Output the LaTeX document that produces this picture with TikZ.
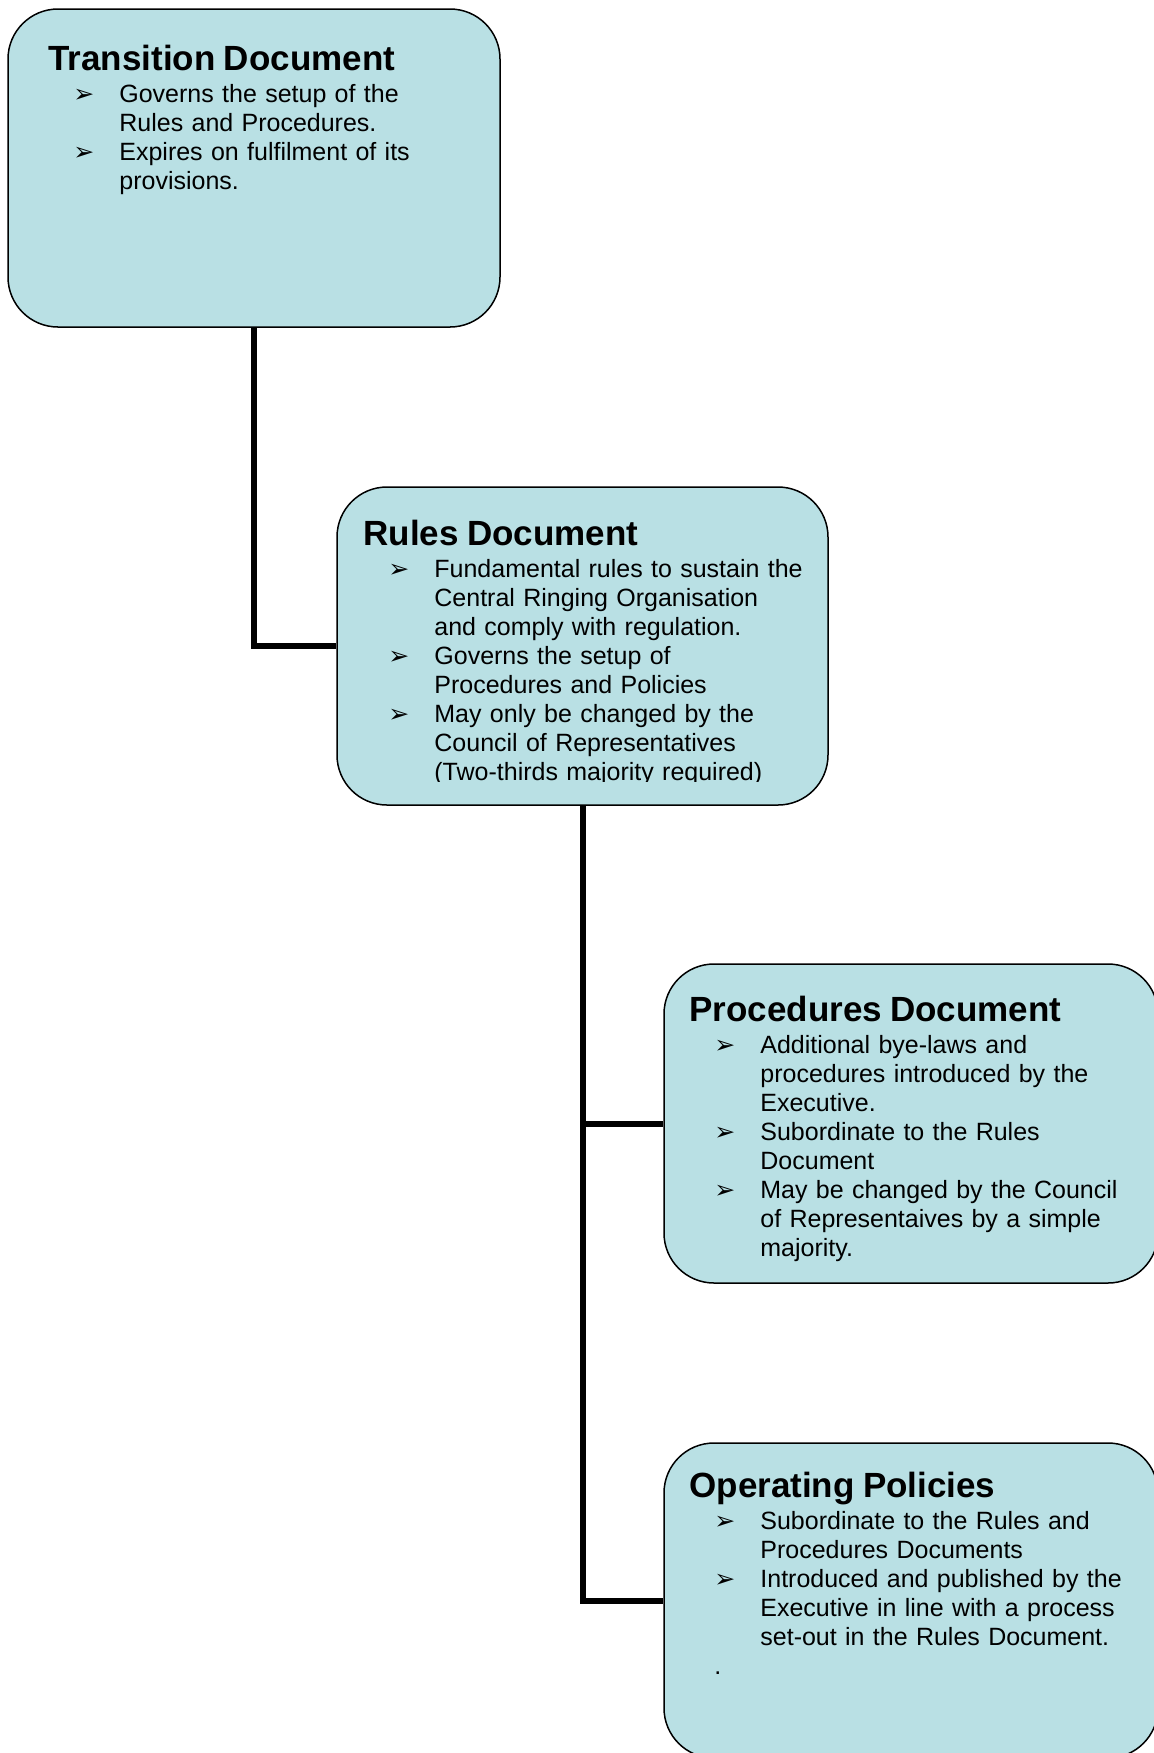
\documentclass[tikz,border=0pt]{standalone}
\usepackage{fontspec}
\setmainfont{Liberation Sans}
\newfontfamily\arrowfont{DejaVu Sans}
\definecolor{boxfill}{RGB}{185,224,228}
\newcommand{\doctitle}[1]{\leftskip=0pt\noindent{\fontsize{17.5}{19}\bfseries #1}\par\vspace{1.5pt}}
\newcommand{\docbullet}{\par\leftskip=35.5pt\noindent\llap{\makebox[23pt][l]{\arrowfont\fontsize{12.5}{12}\selectfont ➢}}}
\begin{document}
\begin{tikzpicture}[x=0.5pt,y=-0.5pt,
  docbox/.style={draw, line width=0.75pt, fill=boxfill, rounded corners=25pt, inner sep=0pt},
  doctext/.style={anchor=base west, inner sep=0pt, text width=235pt, font=\fontsize{12.5}{14.5}\selectfont},
  link/.style={line width=3pt}]
\useasboundingbox (0,0) rectangle (1154,1753);
% boxes
\node[docbox, minimum width=246pt, minimum height=159pt] (trans) at (254,168) {};
\node[docbox, minimum width=245.5pt, minimum height=159pt] (rules) at (582.5,646) {};
\node[docbox, minimum width=247pt, minimum height=159.5pt] (proc) at (911,1123.5) {};
\node[docbox, minimum width=247pt, minimum height=157.5pt] (ops) at (911,1600.5) {};
% texts
\node[doctext] (trans-text) at (48,70) {\doctitle{Transition Document}
\docbullet Governs the setup of the\\Rules and Procedures.
\docbullet Expires on fulfilment of its\\provisions.\par};
\begin{scope}
\clip (337,487) rectangle (828,781);
\node[doctext] (rules-text) at (363,545) {\doctitle{Rules Document}
\docbullet Fundamental rules to sustain the\\Central Ringing Organisation\\and comply with regulation.
\docbullet Governs the setup of\\Procedures and Policies
\docbullet May only be changed by the\\Council of Representatives\\(Two-thirds majority required)\par};
\end{scope}
\node[doctext] (proc-text) at (689,1021) {\doctitle{Procedures Document}
\docbullet Additional bye-laws and\\procedures introduced by the\\Executive.
\docbullet Subordinate to the Rules\\Document
\docbullet May be changed by the Council\\of Representaives by a simple\\majority.\par};
\node[doctext] (ops-text) at (689,1497) {\doctitle{Operating Policies}
\docbullet Subordinate to the Rules and\\Procedures Documents
\docbullet Introduced and published by the\\Executive in line with a process\\set-out in the Rules Document.
\par\leftskip=0pt\noindent\hspace*{12.5pt}.\par};
% connectors
\draw[link] (trans.south) |- (rules.west);
\draw[link] (rules.south) |- (ops.west);
\draw[link] (rules.south |- proc.west) -- (proc.west);
\end{tikzpicture}
\end{document}
